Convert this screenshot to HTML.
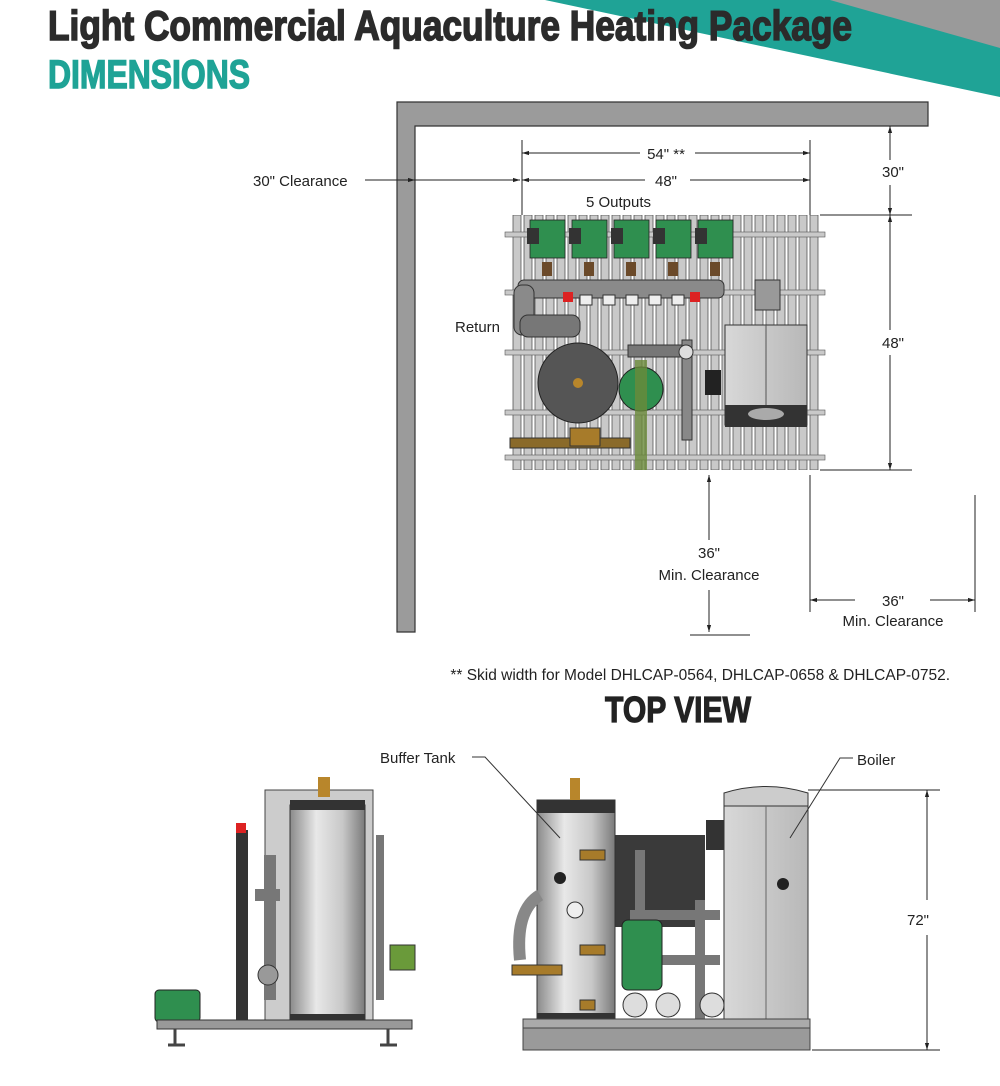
<!DOCTYPE html>
<html><head><meta charset="utf-8"><style>
html,body{margin:0;padding:0;background:#fff}
svg{display:block}
text{font-family:"Liberation Sans",sans-serif}
</style></head><body>
<svg width="1000" height="1086" viewBox="0 0 1000 1086" xmlns="http://www.w3.org/2000/svg">
<defs>
<marker id="a" viewBox="0 0 10 10" refX="10" refY="5" markerWidth="7" markerHeight="7" orient="auto-start-reverse"><path d="M0,2 L10,5 L0,8z" fill="#222"/></marker>
<linearGradient id="tank" x1="0" x2="1"><stop offset="0" stop-color="#8a8a8a"/><stop offset=".35" stop-color="#e8e8e8"/><stop offset=".7" stop-color="#c8c8c8"/><stop offset="1" stop-color="#7a7a7a"/></linearGradient>
<linearGradient id="boil" x1="0" x2="1"><stop offset="0" stop-color="#d8d8d8"/><stop offset="1" stop-color="#b8b8b8"/></linearGradient>
<pattern id="grate" width="11" height="255" patternUnits="userSpaceOnUse" x="512" y="215"><rect x="1" y="0" width="8" height="255" fill="#c9c9c9" stroke="#555" stroke-width=".8"/></pattern>
</defs>
<!-- banner -->
<polygon points="545,0 1000,0 1000,97" fill="#1fa396"/>
<polygon points="830,0 1000,0 1000,48" fill="#9a9a9a"/>
<text x="48" y="40" font-size="42" font-weight="bold" fill="#2b2b2b" stroke="#2b2b2b" stroke-width="1.6" textLength="804" lengthAdjust="spacingAndGlyphs">Light Commercial Aquaculture Heating Package</text>
<text x="48" y="88" font-size="40" font-weight="bold" fill="#1fa396" stroke="#1fa396" stroke-width="1.4" textLength="202" lengthAdjust="spacingAndGlyphs">DIMENSIONS</text>

<!-- wall -->
<path d="M397,102 H928 V126 H415 V632 H397 Z" fill="#9b9b9b" stroke="#333" stroke-width="1.2"/>

<!-- grate -->
<rect x="512" y="215" width="308" height="255" fill="url(#grate)"/>
<g fill="#c9c9c9" stroke="#555" stroke-width=".6">
<rect x="505" y="232" width="320" height="5"/><rect x="505" y="290" width="320" height="5"/><rect x="505" y="350" width="320" height="5"/><rect x="505" y="410" width="320" height="5"/><rect x="505" y="455" width="320" height="5"/>
</g>
<!-- pumps -->
<g>
<g fill="#2f8f4f" stroke="#222" stroke-width=".8">
<rect x="530" y="220" width="35" height="38"/><rect x="572" y="220" width="35" height="38"/><rect x="614" y="220" width="35" height="38"/><rect x="656" y="220" width="35" height="38"/><rect x="698" y="220" width="35" height="38"/>
</g>
<g fill="#333"><rect x="527" y="228" width="12" height="16"/><rect x="569" y="228" width="12" height="16"/><rect x="611" y="228" width="12" height="16"/><rect x="653" y="228" width="12" height="16"/><rect x="695" y="228" width="12" height="16"/></g>
<g fill="#6b4a2a"><rect x="542" y="262" width="10" height="14"/><rect x="584" y="262" width="10" height="14"/><rect x="626" y="262" width="10" height="14"/><rect x="668" y="262" width="10" height="14"/><rect x="710" y="262" width="10" height="14"/></g>
</g>
<!-- manifold -->
<rect x="518" y="280" width="206" height="18" rx="6" fill="#8a8a8a" stroke="#333"/>
<rect x="514" y="285" width="20" height="50" rx="8" fill="#8a8a8a" stroke="#333"/>
<rect x="520" y="315" width="60" height="22" rx="8" fill="#777" stroke="#333"/>
<rect x="563" y="292" width="10" height="10" fill="#d22"/><rect x="690" y="292" width="10" height="10" fill="#d22"/>
<g fill="#eee" stroke="#333"><rect x="580" y="295" width="12" height="10"/><rect x="603" y="295" width="12" height="10"/><rect x="626" y="295" width="12" height="10"/><rect x="649" y="295" width="12" height="10"/><rect x="672" y="295" width="12" height="10"/></g>
<rect x="755" y="280" width="25" height="30" fill="#999" stroke="#333"/>
<!-- boiler top -->
<rect x="725" y="325" width="82" height="100" fill="url(#boil)" stroke="#333"/>
<line x1="766" y1="325" x2="766" y2="405" stroke="#555"/>
<rect x="725" y="405" width="82" height="22" fill="#333"/>
<ellipse cx="766" cy="414" rx="18" ry="6" fill="#aaa"/>
<rect x="705" y="370" width="16" height="25" fill="#222"/>
<!-- tanks top -->
<circle cx="578" cy="383" r="40" fill="#555" stroke="#222"/>
<circle cx="578" cy="383" r="5" fill="#b8862b"/>
<circle cx="641" cy="389" r="22" fill="#2f8f4f" stroke="#222"/>
<rect x="635" y="360" width="12" height="110" fill="#6a8a3a" opacity=".8"/>
<rect x="628" y="345" width="60" height="12" fill="#777" stroke="#333"/>
<rect x="682" y="340" width="10" height="100" fill="#888" stroke="#333"/>
<circle cx="686" cy="352" r="7" fill="#ddd" stroke="#333"/>
<rect x="510" y="438" width="120" height="10" fill="#8a6a2a" stroke="#333"/>
<rect x="570" y="428" width="30" height="18" fill="#a77b2a" stroke="#333"/>
<!-- labels top -->
<g font-size="15" fill="#222">
<text x="586" y="207">5 Outputs</text>
<text x="455" y="332">Return</text>
<text x="253" y="186">30" Clearance</text>
<text x="666" y="159" text-anchor="middle">54" **</text>
<text x="666" y="186" text-anchor="middle">48"</text>
<text x="893" y="177" text-anchor="middle">30"</text>
<text x="893" y="348" text-anchor="middle">48"</text>
<text x="709" y="558" text-anchor="middle">36"</text>
<text x="709" y="580" text-anchor="middle">Min. Clearance</text>
<text x="893" y="606" text-anchor="middle">36"</text>
<text x="893" y="626" text-anchor="middle">Min. Clearance</text>
<text x="950" y="680" text-anchor="end" font-size="15.5">** Skid width for Model DHLCAP-0564, DHLCAP-0658 &amp; DHLCAP-0752.</text>
</g>
<text x="678" y="722" font-size="36" font-weight="bold" fill="#222" stroke="#222" stroke-width="1.2" text-anchor="middle" textLength="146" lengthAdjust="spacingAndGlyphs">TOP VIEW</text>
<!-- dimension lines -->
<g stroke="#222" stroke-width="1" fill="none">
<line x1="522" y1="140" x2="522" y2="215"/><line x1="810" y1="140" x2="810" y2="215"/>
<line x1="522" y1="153" x2="640" y2="153" marker-start="url(#a)"/><line x1="695" y1="153" x2="810" y2="153" marker-end="url(#a)"/>
<line x1="522" y1="180" x2="645" y2="180" marker-start="url(#a)"/><line x1="690" y1="180" x2="810" y2="180" marker-end="url(#a)"/>
<line x1="365" y1="180" x2="415" y2="180" marker-end="url(#a)"/><line x1="415" y1="180" x2="520" y2="180" marker-end="url(#a)"/>
<line x1="820" y1="215" x2="912" y2="215"/><line x1="820" y1="470" x2="912" y2="470"/>
<line x1="890" y1="126" x2="890" y2="160" marker-start="url(#a)"/><line x1="890" y1="185" x2="890" y2="215" marker-end="url(#a)"/>
<line x1="890" y1="215" x2="890" y2="330" marker-start="url(#a)"/><line x1="890" y1="355" x2="890" y2="470" marker-end="url(#a)"/>
<line x1="709" y1="540" x2="709" y2="475" marker-end="url(#a)"/><line x1="709" y1="590" x2="709" y2="632" marker-end="url(#a)"/>
<line x1="690" y1="635" x2="750" y2="635"/>
<line x1="810" y1="475" x2="810" y2="612"/><line x1="975" y1="495" x2="975" y2="612"/>
<line x1="855" y1="600" x2="810" y2="600" marker-end="url(#a)"/><line x1="930" y1="600" x2="975" y2="600" marker-end="url(#a)"/>
<line x1="808" y1="790" x2="940" y2="790"/><line x1="812" y1="1050" x2="940" y2="1050"/>
<line x1="927" y1="900" x2="927" y2="790" marker-end="url(#a)"/><line x1="927" y1="935" x2="927" y2="1050" marker-end="url(#a)"/>
</g>

<!-- left side view -->
<rect x="265" y="790" width="108" height="232" fill="#ccc" stroke="#444"/>
<rect x="290" y="805" width="75" height="216" fill="url(#tank)" stroke="#333"/>
<rect x="290" y="800" width="75" height="10" fill="#333"/>
<rect x="290" y="1014" width="75" height="8" fill="#333"/>
<rect x="318" y="777" width="12" height="20" fill="#b8862b"/>
<rect x="236" y="830" width="12" height="190" fill="#333"/>
<rect x="236" y="823" width="10" height="10" fill="#d22"/>
<path d="M270,855 V1000 M255,895 H280" stroke="#777" stroke-width="12" fill="none"/>
<path d="M380,835 V1000" stroke="#777" stroke-width="8" fill="none"/>
<rect x="390" y="945" width="25" height="25" fill="#6a9a3a" stroke="#333"/>
<circle cx="268" cy="975" r="10" fill="#999" stroke="#333"/>
<rect x="155" y="990" width="45" height="32" rx="4" fill="#2f8f4f" stroke="#222"/>
<rect x="157" y="1020" width="255" height="9" fill="#999" stroke="#333"/>
<path d="M175,1029 V1045 M388,1029 V1045 M168,1045 H185 M380,1045 H397" stroke="#444" stroke-width="3"/>

<!-- right front view -->
<rect x="615" y="835" width="90" height="92" fill="#3a3a3a"/>
<rect x="537" y="800" width="78" height="222" fill="url(#tank)" stroke="#333"/>
<rect x="537" y="800" width="78" height="13" fill="#333"/>
<rect x="537" y="1013" width="78" height="9" fill="#333"/>
<circle cx="560" cy="878" r="6" fill="#222"/>
<rect x="570" y="778" width="10" height="22" fill="#b8862b"/>
<rect x="724" y="793" width="84" height="230" fill="url(#boil)" stroke="#333"/>
<path d="M724,793 Q766,780 808,793 V806 H724Z" fill="#ccc" stroke="#333"/>
<line x1="766" y1="806" x2="766" y2="1020" stroke="#666"/>
<circle cx="783" cy="884" r="6" fill="#222"/>
<rect x="706" y="820" width="18" height="30" fill="#333"/>
<path d="M630,915 H720 M625,960 H720 M700,900 V1020 M640,850 V920" stroke="#777" stroke-width="10" fill="none"/>
<rect x="622" y="920" width="40" height="70" rx="6" fill="#2f8f4f" stroke="#222"/>
<circle cx="635" cy="1005" r="12" fill="#ddd" stroke="#333"/>
<circle cx="668" cy="1005" r="12" fill="#ddd" stroke="#333"/>
<circle cx="712" cy="1005" r="12" fill="#ddd" stroke="#333"/>
<path d="M520,960 Q515,910 540,895" stroke="#888" stroke-width="12" fill="none"/>
<rect x="512" y="965" width="50" height="10" fill="#a77b2a" stroke="#333"/>
<g fill="#a77b2a" stroke="#333"><rect x="580" y="850" width="25" height="10"/><rect x="580" y="945" width="25" height="10"/><rect x="580" y="1000" width="15" height="10"/></g>
<circle cx="575" cy="910" r="8" fill="#eee" stroke="#333"/>
<rect x="523" y="1019" width="287" height="9" fill="#aaa" stroke="#444"/>
<rect x="523" y="1028" width="287" height="22" fill="#9a9a9a" stroke="#444"/>

<g font-size="15" fill="#222">
<text x="380" y="763">Buffer Tank</text>
<text x="857" y="765">Boiler</text>
<text x="918" y="925" text-anchor="middle">72"</text>
</g>
<path d="M472,757 H485 L560,838" stroke="#333" fill="none"/>
<path d="M853,758 H840 L790,838" stroke="#333" fill="none"/>
</svg>
</body></html>
